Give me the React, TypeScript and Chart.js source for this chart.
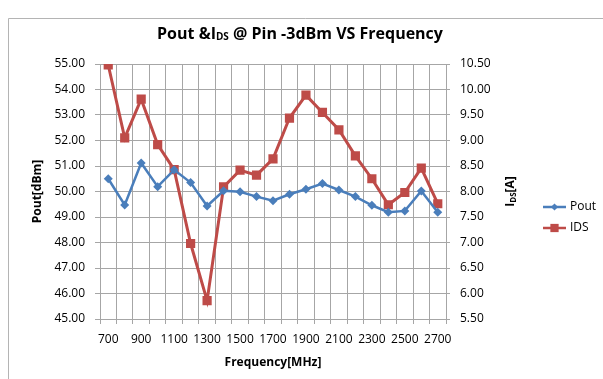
import React, { useEffect, useRef } from 'react';
import { Chart, registerables } from 'chart.js';

Chart.register(...registerables);

const frequencies = [700, 800, 900, 1000, 1100, 1200, 1300, 1400, 1500, 1600, 1700, 1800, 1900, 2000, 2100, 2200, 2300, 2400, 2500, 2600, 2700];
const poutValues = [50.5, 49.47, 51.12, 50.19, 50.85, 50.35, 49.43, 50.03, 49.99, 49.8, 49.64, 49.89, 50.09, 50.31, 50.06, 49.8, 49.46, 49.19, 49.24, 50.02, 49.19];
const idsValues = [10.48, 9.05, 9.81, 8.92, 8.43, 6.98, 5.86, 8.09, 8.42, 8.32, 8.64, 9.44, 9.89, 9.55, 9.21, 8.7, 8.25, 7.74, 7.98, 8.46, 7.76];
const leftAxisRange = [45, 55];
const rightAxisRange = [5.5, 10.5];
const seriesNames = ['Pout', 'IDS'];

const FONT = "'Open Sans', 'DejaVu Sans', sans-serif";
const BLUE = '#4a7ebb';
const RED = '#be4b48';
const GRID = '#a6a6a6';

function drawSub(ctx: CanvasRenderingContext2D, parts: { t: string; sub?: boolean }[], size: number, bold: boolean) {
  const main = `${bold ? 'bold ' : ''}${size}px ${FONT}`;
  const subF = `${bold ? 'bold ' : ''}${Math.round(size * 0.65)}px ${FONT}`;
  let w = 0;
  for (const p of parts) {
    ctx.font = p.sub ? subF : main;
    w += ctx.measureText(p.t).width;
  }
  return {
    width: w,
    draw: (x: number, y: number) => {
      let cx = x;
      for (const p of parts) {
        ctx.font = p.sub ? subF : main;
        ctx.fillText(p.t, cx, p.sub ? y + size * 0.22 : y);
        cx += ctx.measureText(p.t).width;
      }
    },
  };
}

const decorPlugin = {
  id: 'decor',
  beforeDraw(chart: any) {
    const ctx = chart.ctx as CanvasRenderingContext2D;
    ctx.save();
    ctx.fillStyle = '#ffffff';
    ctx.fillRect(0, 0, chart.width, chart.height);
    ctx.strokeStyle = '#b4b4b4';
    ctx.lineWidth = 1;
    ctx.beginPath();
    ctx.moveTo(8.5, chart.height);
    ctx.lineTo(8.5, 18.5);
    ctx.lineTo(chart.width, 18.5);
    ctx.stroke();
    ctx.restore();
  },
  afterDraw(chart: any) {
    const ctx = chart.ctx as CanvasRenderingContext2D;
    const area = chart.chartArea;
    ctx.save();
    ctx.fillStyle = '#000000';
    ctx.textBaseline = 'middle';
    // Title
    const title = drawSub(ctx, [{ t: 'Pout &I' }, { t: 'DS', sub: true }, { t: ' @ Pin -3dBm VS Frequency' }], 16, true);
    title.draw(300 - title.width / 2, 34);
    // X axis title
    ctx.font = `bold 12px ${FONT}`;
    ctx.textAlign = 'center';
    ctx.fillText('Frequency[MHz]', (area.left + area.right) / 2, 363);
    // Left axis title
    const cy = (area.top + area.bottom) / 2;
    ctx.save();
    ctx.translate(38, cy);
    ctx.rotate(-Math.PI / 2);
    ctx.fillText('Pout[dBm]', 0, 0);
    ctx.restore();
    // Right axis title
    ctx.save();
    ctx.translate(511, cy);
    ctx.rotate(-Math.PI / 2);
    ctx.textAlign = 'left';
    const rt = drawSub(ctx, [{ t: 'I' }, { t: 'DS', sub: true }, { t: '[A]' }], 12, true);
    rt.draw(-rt.width / 2, 0);
    ctx.restore();
    // Legend
    const items = [
      { name: seriesNames[0], color: BLUE, style: 'rectRot', r: 4.5, y: 207 },
      { name: seriesNames[1], color: RED, style: 'rect', r: 5.5, y: 228 },
    ];
    ctx.textAlign = 'left';
    ctx.font = `12px ${FONT}`;
    for (const it of items) {
      ctx.strokeStyle = it.color;
      ctx.lineWidth = 2.5;
      ctx.beginPath();
      ctx.moveTo(543, it.y);
      ctx.lineTo(566, it.y);
      ctx.stroke();
      ctx.fillStyle = it.color;
      (Chart as any).helpers?.drawPoint;
      ctx.beginPath();
      if (it.style === 'rect') {
        ctx.rect(554.5 - it.r * 0.75, it.y - it.r * 0.75, it.r * 1.5, it.r * 1.5);
      } else {
        ctx.moveTo(554.5, it.y - it.r * 0.8);
        ctx.lineTo(554.5 + it.r * 0.8, it.y);
        ctx.lineTo(554.5, it.y + it.r * 0.8);
        ctx.lineTo(554.5 - it.r * 0.8, it.y);
        ctx.closePath();
      }
      ctx.fill();
      ctx.fillStyle = '#000000';
      ctx.fillText(it.name, 570, it.y);
    }
    ctx.restore();
  },
};

export default function App() {
  const ref = useRef<HTMLCanvasElement | null>(null);
  useEffect(() => {
    if (!ref.current) return;
    const tickFont = { family: FONT, size: 12 };
    const chart = new Chart(ref.current, {
      type: 'line',
      data: {
        labels: frequencies.map(String),
        datasets: [
          {
            label: seriesNames[0],
            data: poutValues,
            yAxisID: 'y',
            borderColor: BLUE,
            backgroundColor: BLUE,
            borderWidth: 2.5,
            pointStyle: 'rectRot',
            pointRadius: 4.5,
            pointBorderWidth: 0,
            tension: 0,
          },
          {
            label: seriesNames[1],
            data: idsValues,
            yAxisID: 'y1',
            borderColor: RED,
            backgroundColor: RED,
            borderWidth: 3,
            pointStyle: 'rect',
            pointRadius: 6.5,
            pointBorderWidth: 0,
            tension: 0,
          },
        ],
      },
      options: {
        animation: false,
        responsive: false,
        maintainAspectRatio: false,
        layout: { padding: { top: 64, left: 0, right: 0, bottom: 0 } },
        plugins: { legend: { display: false }, title: { display: false }, tooltip: { enabled: false } },
        scales: {
          x: {
            type: 'category',
            offset: true,
            grid: { offset: true, color: GRID, tickLength: 5, lineWidth: 1 },
            border: { color: GRID },
            ticks: {
              autoSkip: false,
              maxRotation: 0,
              minRotation: 0,
              padding: 8,
              color: '#000',
              font: tickFont,
              callback: (_v: any, i: number) => (i % 2 === 0 ? String(frequencies[i]) : ''),
            },
            afterFit: (s: any) => { s.height = 60; },
          },
          y: {
            position: 'left',
            min: leftAxisRange[0],
            max: leftAxisRange[1],
            grid: { color: GRID, tickLength: 5 },
            border: { color: GRID },
            ticks: { stepSize: 1, padding: 10, color: '#000', font: tickFont, callback: (v: any) => Number(v).toFixed(2) },
            afterFit: (s: any) => { s.width = 100; },
          },
          y1: {
            position: 'right',
            min: rightAxisRange[0],
            max: rightAxisRange[1],
            grid: { drawOnChartArea: false, color: GRID, tickLength: 4 },
            border: { color: GRID },
            ticks: { stepSize: 0.5, padding: 10, color: '#000', font: tickFont, callback: (v: any) => Number(v).toFixed(2) },
            afterFit: (s: any) => { s.width = 157; },
          },
        },
      },
      plugins: [decorPlugin],
    } as any);
    return () => chart.destroy();
  }, []);
  return (
    <div style={{ position: 'fixed', left: 0, top: 0, width: 603, height: 379, background: '#fff' }}>
      <canvas ref={ref} width={603} height={379} style={{ width: 603, height: 379, display: 'block' }} />
    </div>
  );
}
